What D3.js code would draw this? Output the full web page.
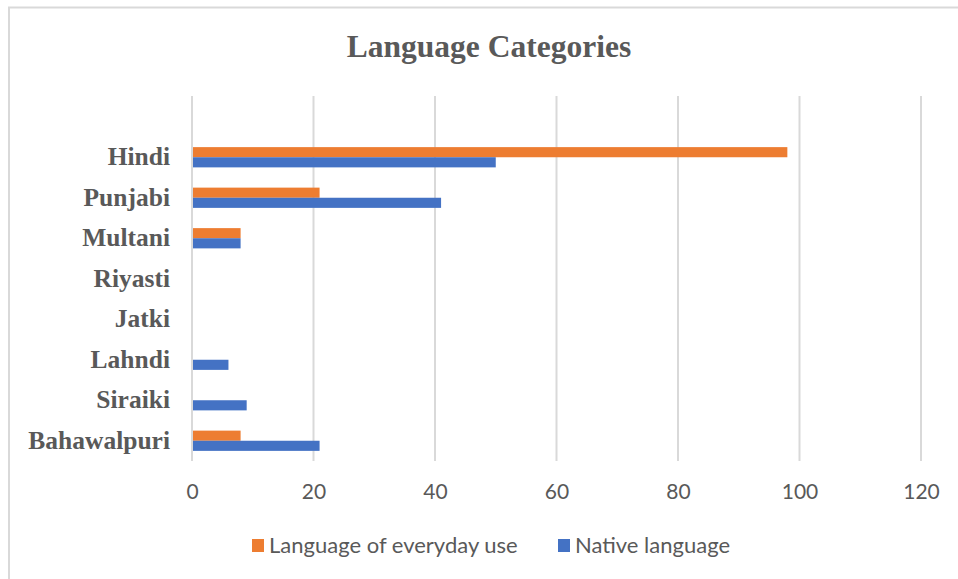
<!DOCTYPE html>
<html>
<head>
<meta charset="utf-8">
<script src="https://d3js.org/d3.v7.min.js"></script>
<style>
  html, body { margin: 0; padding: 0; background: #fff; }
  svg { display: block; }
</style>
</head>
<body>
<svg id="chart" width="958" height="579"></svg>
<script>
const categories = ["Hindi", "Punjabi", "Multani", "Riyasti", "Jatki", "Lahndi", "Siraiki", "Bahawalpuri"];
const everydayUse = [98, 21, 8, 0, 0, 0, 0, 8];
const nativeLanguage = [50, 41, 8, 0, 0, 6, 9, 21];
const seriesNames = ["Language of everyday use", "Native language"];
const seriesColors = ["#ED7D31", "#4472C4"];
const xTicks = [0, 20, 40, 60, 80, 100, 120];
const title = "Language Categories";

const svg = d3.select("#chart");
const W = 958, H = 579;
const sansFont = "Lato, 'Open Sans', sans-serif";
const serifFont = "'Liberation Serif', 'DejaVu Serif', serif";

svg.append("rect").attr("width", W).attr("height", H).attr("fill", "#fff");
// chart frame (only top and left edges visible in the picture)
svg.append("rect").attr("x", 9).attr("y", 7.5).attr("width", 980).attr("height", 600)
  .attr("fill", "none").attr("stroke", "#d9d9d9").attr("stroke-width", 2);

const x = d3.scaleLinear().domain([0, 120]).range([192, 921]);
const y = d3.scaleBand().domain(categories).range([137, 461]).paddingInner(0.5).paddingOuter(0.25);
const ySub = d3.scaleBand().domain(seriesNames).range([0, y.bandwidth()]);

const gridTop = 96, gridBottom = 461;

// gridlines
svg.append("g").selectAll("line").data(xTicks).join("line")
  .attr("x1", d => x(d)).attr("x2", d => x(d))
  .attr("y1", gridTop).attr("y2", gridBottom)
  .attr("stroke", "#d9d9d9").attr("stroke-width", 2);

// bars
const data = categories.map((c, i) => ({ cat: c, vals: [everydayUse[i], nativeLanguage[i]] }));
const groups = svg.append("g").selectAll("g").data(data).join("g")
  .attr("transform", d => `translate(0,${y(d.cat)})`);
groups.selectAll("rect").data(d => d.vals.map((v, j) => ({ v, s: seriesNames[j], c: seriesColors[j] })))
  .join("rect")
  .attr("x", x(0) + 1)
  .attr("y", d => ySub(d.s))
  .attr("width", d => Math.max(0, x(d.v) - x(0) - 1))
  .attr("height", ySub.bandwidth())
  .attr("fill", d => d.c);

// x axis labels
const xAxis = d3.axisBottom(x).tickValues(xTicks).tickSize(0).tickPadding(0);
const xg = svg.append("g").attr("transform", `translate(0,${484})`).call(xAxis);
xg.select(".domain").remove();
xg.selectAll("text").attr("font-family", sansFont)
  .attr("font-size", 21).attr("fill", "#595959").attr("dy", "0.71em");

// y axis labels
const yAxis = d3.axisLeft(y).tickSize(0).tickPadding(22);
const yg = svg.append("g").attr("transform", `translate(${x(0)},0)`).call(yAxis);
yg.select(".domain").remove();
yg.selectAll("text").attr("font-family", serifFont)
  .attr("font-weight", "bold").attr("font-size", 25.5).attr("fill", "#595959");

// title
svg.append("text").attr("x", 489).attr("y", 57).attr("text-anchor", "middle")
  .attr("font-family", serifFont)
  .attr("font-weight", "bold").attr("font-size", 31.5).attr("fill", "#595959")
  .text(title);

// legend
const legendItems = [{ x: 252, name: seriesNames[0], color: seriesColors[0] },
                     { x: 558, name: seriesNames[1], color: seriesColors[1] }];
const lg = svg.append("g").selectAll("g").data(legendItems).join("g")
  .attr("transform", d => `translate(${d.x},539)`);
lg.append("rect").attr("width", 12).attr("height", 13).attr("fill", d => d.color);
lg.append("text").attr("x", 17).attr("y", 14)
  .attr("font-family", sansFont).attr("font-size", 22)
  .attr("fill", "#595959").text(d => d.name);
</script>
</body>
</html>
